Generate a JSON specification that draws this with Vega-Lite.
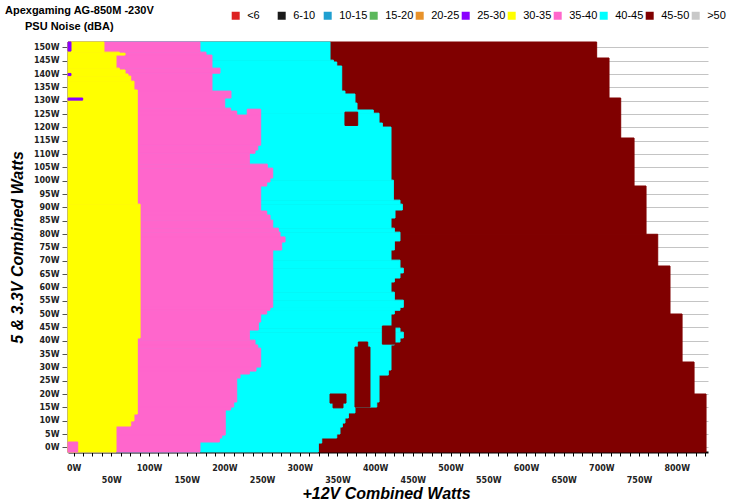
{
  "$schema": "https://vega.github.io/schema/vega-lite/v6.json",
  "width": 640,
  "height": 410,
  "autosize": "none",
  "padding": {"left": 68, "top": 42, "right": 21, "bottom": 52},
  "background": "white",
  "title": {
    "text": "Apexgaming AG-850M -230V",
    "anchor": "start",
    "frame": "group",
    "dx": -63,
    "offset": 14,
    "dy": 20,
    "font": "Liberation Sans",
    "fontSize": 11,
    "fontWeight": "bold",
    "color": "#000000"
  },
  "config": {"view": {"stroke": null}},
  "data": {"values": [
    {"x1": -7.5, "x2": 693.8, "y1": 146.0, "y2": 152.0, "noise": "45-50"},
    {"x1": -7.5, "x2": 710.2, "y1": 131.0, "y2": 146.0, "noise": "45-50"},
    {"x1": -7.5, "x2": 725.7, "y1": 116.0, "y2": 131.0, "noise": "45-50"},
    {"x1": -7.5, "x2": 743.4, "y1": 98.0, "y2": 116.0, "noise": "45-50"},
    {"x1": -7.5, "x2": 759.3, "y1": 79.9, "y2": 98.0, "noise": "45-50"},
    {"x1": -7.5, "x2": 774.8, "y1": 68.0, "y2": 79.9, "noise": "45-50"},
    {"x1": -7.5, "x2": 791.1, "y1": 50.0, "y2": 68.0, "noise": "45-50"},
    {"x1": -7.5, "x2": 807.1, "y1": 32.0, "y2": 50.0, "noise": "45-50"},
    {"x1": -7.5, "x2": 823.0, "y1": 20.0, "y2": 32.0, "noise": "45-50"},
    {"x1": -7.5, "x2": 838.9, "y1": -1.75, "y2": 20.0, "noise": "45-50"},

    {"x1": -7.5, "x2": 340.1, "y1": 145.2, "y2": 152.0, "noise": "40-45"},
    {"x1": -7.5, "x2": 344.5, "y1": 144.5, "y2": 145.2, "noise": "40-45"},
    {"x1": -7.5, "x2": 349.0, "y1": 143.0, "y2": 144.5, "noise": "40-45"},
    {"x1": -7.5, "x2": 355.6, "y1": 133.6, "y2": 143.0, "noise": "40-45"},
    {"x1": -7.5, "x2": 359.9, "y1": 132.5, "y2": 133.6, "noise": "40-45"},
    {"x1": -7.5, "x2": 373.2, "y1": 129.1, "y2": 132.5, "noise": "40-45"},
    {"x1": -7.5, "x2": 375.9, "y1": 126.5, "y2": 129.1, "noise": "40-45"},
    {"x1": -7.5, "x2": 397.5, "y1": 125.3, "y2": 126.5, "noise": "40-45"},
    {"x1": -7.5, "x2": 405.1, "y1": 121.6, "y2": 125.3, "noise": "40-45"},
    {"x1": -7.5, "x2": 409.5, "y1": 120.1, "y2": 121.6, "noise": "40-45"},
    {"x1": -7.5, "x2": 421.0, "y1": 100.2, "y2": 120.1, "noise": "40-45"},
    {"x1": -7.5, "x2": 424.1, "y1": 92.7, "y2": 100.2, "noise": "40-45"},
    {"x1": -7.5, "x2": 432.9, "y1": 91.2, "y2": 92.7, "noise": "40-45"},
    {"x1": -7.5, "x2": 436.0, "y1": 89.0, "y2": 91.2, "noise": "40-45"},
    {"x1": -7.5, "x2": 426.3, "y1": 86.0, "y2": 89.0, "noise": "40-45"},
    {"x1": -7.5, "x2": 421.0, "y1": 82.2, "y2": 86.0, "noise": "40-45"},
    {"x1": -7.5, "x2": 425.4, "y1": 80.7, "y2": 82.2, "noise": "40-45"},
    {"x1": -7.5, "x2": 432.9, "y1": 77.4, "y2": 80.7, "noise": "40-45"},
    {"x1": -7.5, "x2": 425.4, "y1": 74.0, "y2": 77.4, "noise": "40-45"},
    {"x1": -7.5, "x2": 421.0, "y1": 70.2, "y2": 74.0, "noise": "40-45"},
    {"x1": -7.5, "x2": 432.9, "y1": 67.2, "y2": 70.2, "noise": "40-45"},
    {"x1": -7.5, "x2": 437.3, "y1": 65.4, "y2": 67.2, "noise": "40-45"},
    {"x1": -7.5, "x2": 432.9, "y1": 63.5, "y2": 65.4, "noise": "40-45"},
    {"x1": -7.5, "x2": 425.4, "y1": 62.0, "y2": 63.5, "noise": "40-45"},
    {"x1": -7.5, "x2": 421.0, "y1": 58.2, "y2": 62.0, "noise": "40-45"},
    {"x1": -7.5, "x2": 425.4, "y1": 55.2, "y2": 58.2, "noise": "40-45"},
    {"x1": -7.5, "x2": 437.3, "y1": 52.5, "y2": 55.2, "noise": "40-45"},
    {"x1": -7.5, "x2": 432.9, "y1": 51.4, "y2": 52.5, "noise": "40-45"},
    {"x1": -7.5, "x2": 425.4, "y1": 50.0, "y2": 51.4, "noise": "40-45"},
    {"x1": -7.5, "x2": 421.0, "y1": 44.7, "y2": 50.0, "noise": "40-45"},
    {"x1": -7.5, "x2": 432.9, "y1": 43.2, "y2": 44.7, "noise": "40-45"},
    {"x1": -7.5, "x2": 437.3, "y1": 41.0, "y2": 43.2, "noise": "40-45"},
    {"x1": -7.5, "x2": 432.9, "y1": 39.5, "y2": 41.0, "noise": "40-45"},
    {"x1": -7.5, "x2": 425.4, "y1": 38.4, "y2": 39.5, "noise": "40-45"},
    {"x1": -7.5, "x2": 421.0, "y1": 29.0, "y2": 38.4, "noise": "40-45"},
    {"x1": -7.5, "x2": 417.4, "y1": 27.1, "y2": 29.0, "noise": "40-45"},
    {"x1": -7.5, "x2": 405.1, "y1": 17.0, "y2": 27.1, "noise": "40-45"},
    {"x1": -7.5, "x2": 402.1, "y1": 15.1, "y2": 17.0, "noise": "40-45"},
    {"x1": -7.5, "x2": 373.2, "y1": 12.9, "y2": 15.1, "noise": "40-45"},
    {"x1": -7.5, "x2": 364.4, "y1": 11.0, "y2": 12.9, "noise": "40-45"},
    {"x1": -7.5, "x2": 359.9, "y1": 9.1, "y2": 11.0, "noise": "40-45"},
    {"x1": -7.5, "x2": 356.4, "y1": 7.6, "y2": 9.1, "noise": "40-45"},
    {"x1": -7.5, "x2": 353.3, "y1": 5.0, "y2": 7.6, "noise": "40-45"},
    {"x1": -7.5, "x2": 349.0, "y1": 3.5, "y2": 5.0, "noise": "40-45"},
    {"x1": -7.5, "x2": 329.1, "y1": 1.6, "y2": 3.5, "noise": "40-45"},
    {"x1": -7.5, "x2": 324.6, "y1": -1.75, "y2": 1.6, "noise": "40-45"},

    {"x1": -7.5, "x2": 167.6, "y1": 148.2, "y2": 152.0, "noise": "35-40"},
    {"x1": -7.5, "x2": 175.6, "y1": 147.1, "y2": 148.2, "noise": "35-40"},
    {"x1": -7.5, "x2": 183.5, "y1": 142.2, "y2": 147.1, "noise": "35-40"},
    {"x1": -7.5, "x2": 194.1, "y1": 140.3, "y2": 142.2, "noise": "35-40"},
    {"x1": -7.5, "x2": 183.5, "y1": 133.6, "y2": 140.3, "noise": "35-40"},
    {"x1": -7.5, "x2": 208.7, "y1": 131.0, "y2": 133.6, "noise": "35-40"},
    {"x1": -7.5, "x2": 200.4, "y1": 127.2, "y2": 131.0, "noise": "35-40"},
    {"x1": -7.5, "x2": 208.3, "y1": 126.1, "y2": 127.2, "noise": "35-40"},
    {"x1": -7.5, "x2": 216.3, "y1": 124.6, "y2": 126.1, "noise": "35-40"},
    {"x1": 230.3, "x2": 248.1, "y1": 124.6, "y2": 126.8, "noise": "35-40"},
    {"x1": -7.5, "x2": 248.1, "y1": 113.3, "y2": 124.6, "noise": "35-40"},
    {"x1": -7.5, "x2": 244.2, "y1": 111.5, "y2": 113.3, "noise": "35-40"},
    {"x1": -7.5, "x2": 240.6, "y1": 110.3, "y2": 111.5, "noise": "35-40"},
    {"x1": -7.5, "x2": 233.1, "y1": 106.2, "y2": 110.3, "noise": "35-40"},
    {"x1": -7.5, "x2": 256.9, "y1": 104.7, "y2": 106.2, "noise": "35-40"},
    {"x1": -7.5, "x2": 264.1, "y1": 101.0, "y2": 104.7, "noise": "35-40"},
    {"x1": -7.5, "x2": 260.5, "y1": 99.5, "y2": 101.0, "noise": "35-40"},
    {"x1": -7.5, "x2": 256.1, "y1": 98.0, "y2": 99.5, "noise": "35-40"},
    {"x1": -7.5, "x2": 248.1, "y1": 88.6, "y2": 98.0, "noise": "35-40"},
    {"x1": -7.5, "x2": 256.1, "y1": 87.1, "y2": 88.6, "noise": "35-40"},
    {"x1": -7.5, "x2": 260.5, "y1": 85.2, "y2": 87.1, "noise": "35-40"},
    {"x1": -7.5, "x2": 264.1, "y1": 82.2, "y2": 85.2, "noise": "35-40"},
    {"x1": -7.5, "x2": 271.5, "y1": 80.7, "y2": 82.2, "noise": "35-40"},
    {"x1": -7.5, "x2": 273.8, "y1": 78.9, "y2": 80.7, "noise": "35-40"},
    {"x1": -7.5, "x2": 280.4, "y1": 77.0, "y2": 78.9, "noise": "35-40"},
    {"x1": -7.5, "x2": 276.0, "y1": 74.0, "y2": 77.0, "noise": "35-40"},
    {"x1": -7.5, "x2": 264.1, "y1": 52.5, "y2": 74.0, "noise": "35-40"},
    {"x1": -7.5, "x2": 260.5, "y1": 51.4, "y2": 52.5, "noise": "35-40"},
    {"x1": -7.5, "x2": 256.1, "y1": 50.0, "y2": 51.4, "noise": "35-40"},
    {"x1": -7.5, "x2": 248.1, "y1": 47.0, "y2": 50.0, "noise": "35-40"},
    {"x1": -7.5, "x2": 245.0, "y1": 44.0, "y2": 47.0, "noise": "35-40"},
    {"x1": -7.5, "x2": 233.1, "y1": 40.2, "y2": 44.0, "noise": "35-40"},
    {"x1": -7.5, "x2": 240.6, "y1": 38.4, "y2": 40.2, "noise": "35-40"},
    {"x1": -7.5, "x2": 244.2, "y1": 37.2, "y2": 38.4, "noise": "35-40"},
    {"x1": -7.5, "x2": 248.1, "y1": 30.1, "y2": 37.2, "noise": "35-40"},
    {"x1": -7.5, "x2": 241.9, "y1": 28.6, "y2": 30.1, "noise": "35-40"},
    {"x1": -7.5, "x2": 233.1, "y1": 27.5, "y2": 28.6, "noise": "35-40"},
    {"x1": -7.5, "x2": 220.7, "y1": 26.0, "y2": 27.5, "noise": "35-40"},
    {"x1": -7.5, "x2": 216.3, "y1": 17.0, "y2": 26.0, "noise": "35-40"},
    {"x1": -7.5, "x2": 212.3, "y1": 15.1, "y2": 17.0, "noise": "35-40"},
    {"x1": -7.5, "x2": 208.3, "y1": 14.0, "y2": 15.1, "noise": "35-40"},
    {"x1": -7.5, "x2": 201.1, "y1": 4.6, "y2": 14.0, "noise": "35-40"},
    {"x1": -7.5, "x2": 196.5, "y1": 3.5, "y2": 4.6, "noise": "35-40"},
    {"x1": -7.5, "x2": 193.3, "y1": 2.0, "y2": 3.5, "noise": "35-40"},
    {"x1": -7.5, "x2": 167.6, "y1": -1.75, "y2": 2.0, "noise": "35-40"},

    {"x1": -7.5, "x2": 40.2, "y1": 148.2, "y2": 152.0, "noise": "30-35"},
    {"x1": -7.5, "x2": 60.5, "y1": 147.1, "y2": 148.2, "noise": "30-35"},
    {"x1": 60.5, "x2": 68.2, "y1": 147.1, "y2": 147.8, "noise": "30-35"},
    {"x1": -7.5, "x2": 56.2, "y1": 142.2, "y2": 147.1, "noise": "30-35"},
    {"x1": -7.5, "x2": 60.5, "y1": 141.5, "y2": 142.2, "noise": "30-35"},
    {"x1": -7.5, "x2": 68.2, "y1": 140.0, "y2": 141.5, "noise": "30-35"},
    {"x1": -7.5, "x2": 72.1, "y1": 139.2, "y2": 140.0, "noise": "30-35"},
    {"x1": -7.5, "x2": 75.7, "y1": 137.3, "y2": 139.2, "noise": "30-35"},
    {"x1": -7.5, "x2": 80.0, "y1": 134.0, "y2": 137.3, "noise": "30-35"},
    {"x1": -7.5, "x2": 84.4, "y1": 91.2, "y2": 134.0, "noise": "30-35"},
    {"x1": -7.5, "x2": 88.1, "y1": 41.0, "y2": 91.2, "noise": "30-35"},
    {"x1": -7.5, "x2": 84.4, "y1": 12.5, "y2": 41.0, "noise": "30-35"},
    {"x1": -7.5, "x2": 80.0, "y1": 9.9, "y2": 12.5, "noise": "30-35"},
    {"x1": -7.5, "x2": 75.7, "y1": 8.0, "y2": 9.9, "noise": "30-35"},
    {"x1": -7.5, "x2": 56.2, "y1": -1.75, "y2": 8.0, "noise": "30-35"},

    {"x1": -7.5, "x2": -3.5, "y1": 148.6, "y2": 152.0, "noise": "25-30"},
    {"x1": -7.5, "x2": -3.5, "y1": 139.4, "y2": 140.2, "noise": "25-30"},
    {"x1": -7.5, "x2": 12.0, "y1": 130.2, "y2": 131.0, "noise": "25-30"},
    {"x1": -7.5, "x2": 5.4, "y1": -1.75, "y2": 2.0, "noise": "35-40"},
    {"x1": 359.9, "x2": 376.8, "y1": 120.7, "y2": 125.7, "noise": "45-50"},
    {"x1": 409.5, "x2": 426.3, "y1": 38.7, "y2": 45.5, "noise": "45-50"},
    {"x1": 340.1, "x2": 361.3, "y1": 16.6, "y2": 20.0, "noise": "45-50"},
    {"x1": 344.1, "x2": 357.3, "y1": 14.8, "y2": 16.6, "noise": "45-50"},
    {"x1": 373.2, "x2": 393.1, "y1": 15.1, "y2": 37.6, "noise": "45-50"},
    {"x1": 377.6, "x2": 390.1, "y1": 37.6, "y2": 39.5, "noise": "45-50"}
  ]},
  "mark": {"type": "bar", "strokeWidth": 1},
  "encoding": {
    "x": {
      "field": "x1", "type": "quantitative",
      "scale": {"domain": [-7.5, 841.5], "nice": false, "zero": false},
      "axis": {
        "title": "+12V Combined Watts",
        "titleFont": "Liberation Sans", "titleFontSize": 16, "titleFontWeight": "bold", "titleFontStyle": "italic", "titleColor": "#000000",
        "titleBaseline": "alphabetic", "titleY": 46, "titleX": 318, "titleAlign": "center",
        "values": [0,12.5,25,37.5,50,62.5,75,87.5,100,112.5,125,137.5,150,162.5,175,187.5,200,212.5,225,237.5,250,262.5,275,287.5,300,312.5,325,337.5,350,362.5,375,387.5,400,412.5,425,437.5,450,462.5,475,487.5,500,512.5,525,537.5,550,562.5,575,587.5,600,612.5,625,637.5,650,662.5,675,687.5,700,712.5,725,737.5,750,762.5,775,787.5,800,812.5,825,837.5],
        "labelExpr": "datum.value % 50 === 0 ? datum.value + 'W' : ''",
        "labelOverlap": false, "labelBound": false, "labelFlush": false,
        "labelFont": "DejaVu Sans", "labelFontSize": 8, "labelFontWeight": "bold", "labelColor": "#222222",
        "labelPadding": {"condition": {"test": "datum.value % 100 !== 0", "value": 20}, "value": 8},
        "tickSize": 4, "tickColor": "#000000", "tickWidth": 1,
        "domainColor": "#000000", "domainWidth": 2, "grid": false
      }
    },
    "x2": {"field": "x2"},
    "y": {
      "field": "y1", "type": "quantitative",
      "scale": {"domain": [-1.75, 152], "nice": false, "zero": false},
      "axis": {
        "title": "5 & 3.3V Combined Watts",
        "titleFont": "Liberation Sans", "titleFontSize": 16, "titleFontWeight": "bold", "titleFontStyle": "italic", "titleColor": "#000000",
        "titlePadding": 8,
        "values": [0,5,10,15,20,25,30,35,40,45,50,55,60,65,70,75,80,85,90,95,100,105,110,115,120,125,130,135,140,145,150],
        "labelExpr": "datum.value + 'W'",
        "labelFont": "DejaVu Sans", "labelFontSize": 8, "labelFontWeight": "bold", "labelColor": "#222222",
        "labelPadding": 3, "tickSize": 6, "tickColor": "#555555", "tickWidth": 1,
        "domainColor": "#000000", "domainWidth": 2,
        "grid": true, "gridColor": "#c4c4c4", "gridWidth": 1
      }
    },
    "y2": {"field": "y2"},
    "color": {
      "field": "noise", "type": "nominal",
      "scale": {
        "domain": ["<6","6-10","10-15","15-20","20-25","25-30","30-35","35-40","40-45","45-50",">50"],
        "range": ["#dd2222","#1a1a1a","#1f9fd0","#5cb85c","#e8922a","#8a00ff","#ffff00","#ff66cc","#00ffff","#800000","#c8c8c8"]
      },
      "legend": {
        "orient": "none", "legendX": -43, "legendY": -32,
        "direction": "horizontal", "columns": 11, "gridAlign": "all",
        "title": "PSU Noise (dBA)", "titleOrient": "left", "titlePadding": 116.2,
        "titleAnchor": "end", "titleBaseline": "top",
        "titleFont": "Liberation Sans", "titleFontSize": 11, "titleFontWeight": "bold", "titleColor": "#000000",
        "padding": 0,
        "symbolType": "square", "symbolSize": 64, "symbolStrokeWidth": 0, "symbolOpacity": 1,
        "labelOffset": 6, "columnPadding": -4.15,
        "labelFont": "Liberation Sans", "labelFontSize": 11, "labelColor": "#000000"
      }
    },
    "stroke": {
      "field": "noise", "type": "nominal",
      "scale": {
        "domain": ["<6","6-10","10-15","15-20","20-25","25-30","30-35","35-40","40-45","45-50",">50"],
        "range": ["#dd2222","#1a1a1a","#1f9fd0","#5cb85c","#e8922a","#8a00ff","#ffff00","#ff66cc","#00ffff","#800000","#c8c8c8"]
      },
      "legend": null
    }
  }
}
